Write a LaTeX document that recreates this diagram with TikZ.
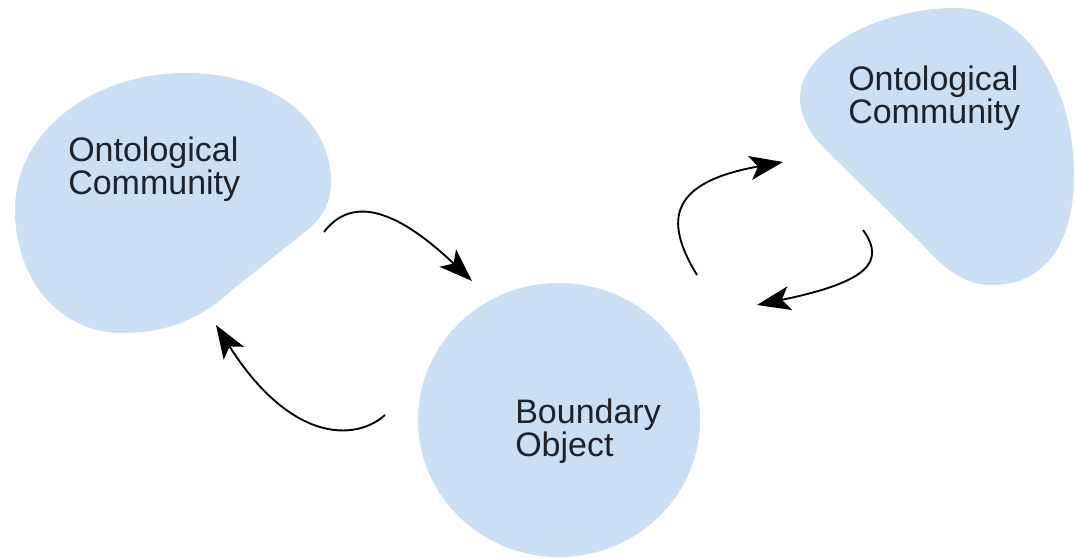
\documentclass[tikz,border=0pt]{standalone}
\usepackage{fontspec}
\setmainfont{Liberation Sans}
\usetikzlibrary{arrows.meta,shapes.geometric}
\definecolor{blobfill}{HTML}{CADEF4}
\definecolor{labeltext}{HTML}{1E222B}
\tikzset{
  blob/.style={fill=blobfill, draw=none},
  label/.style={anchor=base west, align=left, inner sep=0pt, text=labeltext,
    font=\fontsize{25.5}{24.75}\selectfont},
  flow/.style={line width=1.4pt, black,
    -{Stealth[length=25pt, width=18pt, inset=6pt]}}
}
\begin{document}
\begin{tikzpicture}[x=0.75pt, y=-0.75pt]
  \useasboundingbox (0,0) rectangle (1075,559);

  % left community
  \path[blob] (15,210) .. controls (15,130) and (95,73) .. (185,73)
    .. controls (272,73) and (331,120) .. (331,182)
    .. controls (331,204) and (322,218) .. (305,232)
    -- (232,290)
    .. controls (200,320) and (165,333) .. (122,333)
    .. controls (60,333) and (15,280) .. (15,210) -- cycle;

  % right community
  \path[blob] (800,100) .. controls (798,50) and (880,8) .. (955,8)
    .. controls (1025,8) and (1074,85) .. (1074,175)
    .. controls (1074,250) and (1040,285) .. (992,285)
    .. controls (962,285) and (942,266) .. (922,244)
    -- (826,150)
    .. controls (810,134) and (801,118) .. (800,100) -- cycle;

  % boundary object
  \path[blob] (559,420) ellipse [x radius=141, y radius=137];

  % labels (anchored on the baseline of the last line)
  \node[label] (commA) at (68,195) {Ontological\\Community};
  \node[label] (commB) at (848,124) {Ontological\\Community};
  \node[label] (bobj) at (515,457) {Boundary\\Object};

  \coordinate (a1s) at (324,232);
  \coordinate (a1e) at (472,281);
  \coordinate (a2s) at (385,415);
  \coordinate (a2e) at (216,325);
  \coordinate (a3s) at (697,275);
  \coordinate (a3e) at (783,162);
  \coordinate (a4s) at (863,230);
  \coordinate (a4e) at (757,305);

  \draw[flow] (a1s) .. controls (350,198) and (392,205) .. (a1e);
  \draw[flow] (a2s) .. controls (355,442) and (290,442) .. (a2e);
  \draw[flow] (a3s) .. controls (662,218) and (672,182) .. (a3e);
  \draw[flow] (a4s) .. controls (886,262) and (868,282) .. (a4e);
\end{tikzpicture}
\end{document}
